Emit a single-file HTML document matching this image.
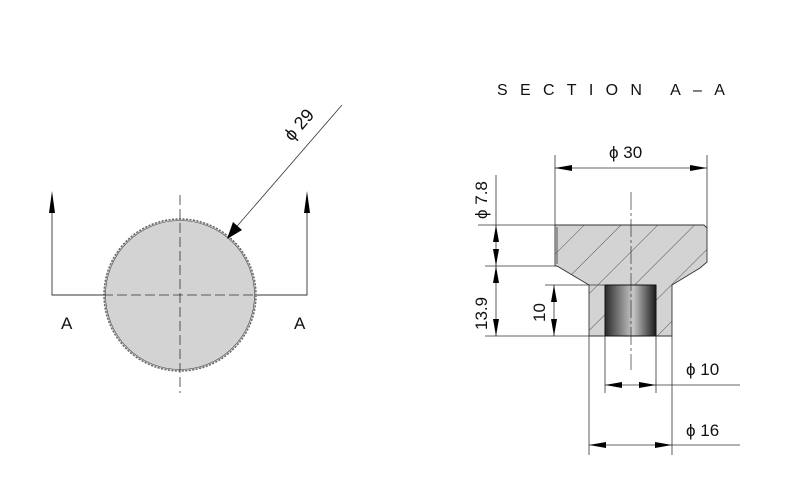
<!DOCTYPE html>
<html><head><meta charset="utf-8"><style>
html,body{margin:0;padding:0;background:#fff;}
svg{display:block;font-family:"Liberation Sans",sans-serif;}
</style></head><body>
<svg width="788" height="500" viewBox="0 0 788 500" xmlns="http://www.w3.org/2000/svg">
<defs>
<linearGradient id="g" x1="0" x2="1" y1="0" y2="0">
<stop offset="0" stop-color="#2a2a2a"/><stop offset="0.55" stop-color="#c8c8c8"/><stop offset="1" stop-color="#1a1a1a"/>
</linearGradient>
<pattern id="h" width="26" height="26" patternUnits="userSpaceOnUse" patternTransform="rotate(45)">
<line x1="0" y1="0" x2="0" y2="26" stroke="#333" stroke-width="0.8"/>
</pattern>
</defs>
<circle cx="180" cy="295" r="76" fill="#d3d3d3" stroke="#666" stroke-width="1.5" stroke-dasharray="2 1.5"/>
<circle cx="180" cy="295" r="74.5" fill="none" stroke="#444" stroke-width="0.6"/>
<line x1="180" y1="195" x2="180" y2="393" stroke="#333" stroke-width="0.8" stroke-dasharray="10 4"/>
<line x1="103" y1="295" x2="257" y2="295" stroke="#333" stroke-width="0.8" stroke-dasharray="10 4"/>
<polyline points="52,200 52,295 103,295" fill="none" stroke="#333" stroke-width="0.9"/>
<polyline points="307,200 307,295 257,295" fill="none" stroke="#333" stroke-width="0.9"/>
<polygon points="52,191 49,213 55,213" fill="#000"/>
<polygon points="307,191 304,213 310,213" fill="#000"/>
<text x="61" y="329" font-size="17" fill="#111">A</text>
<text x="294" y="329" font-size="17" fill="#111">A</text>
<line x1="342" y1="105" x2="232" y2="232" stroke="#333" stroke-width="0.8"/>
<polygon points="227,239 233,222 242,230" fill="#000"/>
<text x="0" y="0" font-size="18" fill="#111" transform="translate(292,142) rotate(-49)">ϕ 29</text>
<text x="497" y="95" font-size="16" fill="#111" letter-spacing="12.3">SECTION A–A</text>
<polygon points="555,225 704,225 707,228 707,262 700,268 672,285 672,336 589,336 589,285 557,266 555,266" fill="#d3d3d3"/>
<clipPath id="c"><polygon points="555,225 704,225 707,228 707,262 700,268 672,285 672,336 589,336 589,285 557,266 555,266"/></clipPath>
<rect x="550" y="220" width="160" height="120" fill="url(#h)" clip-path="url(#c)"/>
<polygon points="555,225 704,225 707,228 707,262 700,268 672,285 672,336 589,336 589,285 557,266 555,266" fill="none" stroke="#333" stroke-width="0.9"/>
<line x1="557" y1="227" x2="557" y2="264" stroke="#555" stroke-width="1"/>
<rect x="605" y="285" width="51" height="51" fill="url(#g)" stroke="#111" stroke-width="1"/>
<line x1="631" y1="192" x2="631" y2="370" stroke="#333" stroke-width="0.7" stroke-dasharray="18 3 3 3"/>
<g stroke="#333" stroke-width="0.8" fill="none">
<line x1="555" y1="155" x2="555" y2="225"/>
<line x1="707" y1="155" x2="707" y2="228"/>
<line x1="555" y1="168" x2="707" y2="168"/>
<line x1="496" y1="175" x2="496" y2="336"/>
<line x1="478" y1="225" x2="555" y2="225"/>
<line x1="485" y1="266" x2="557" y2="266"/>
<line x1="485" y1="336" x2="589" y2="336"/>
<line x1="545" y1="285" x2="605" y2="285"/>
<line x1="554" y1="285" x2="554" y2="336"/>
<line x1="605" y1="336" x2="605" y2="393"/>
<line x1="656" y1="336" x2="656" y2="393"/>
<line x1="605" y1="385" x2="740" y2="385"/>
<line x1="589" y1="336" x2="589" y2="455"/>
<line x1="672" y1="336" x2="672" y2="455"/>
<line x1="589" y1="445" x2="740" y2="445"/>
</g>
<g fill="#000">
<polygon points="555,168 572,165 572,171"/>
<polygon points="707,168 690,165 690,171"/>
<polygon points="496,225 493,242 499,242"/>
<polygon points="496,266 493,249 499,249"/>
<polygon points="496,266 493,283 499,283"/>
<polygon points="496,336 493,319 499,319"/>
<polygon points="554,285 551,302 557,302"/>
<polygon points="554,336 551,319 557,319"/>
<polygon points="605,385 622,382 622,388"/>
<polygon points="656,385 639,382 639,388"/>
<polygon points="589,445 606,442 606,448"/>
<polygon points="672,445 655,442 655,448"/>
</g>
<text x="609" y="158" font-size="17" fill="#111">ϕ 30</text>
<text x="0" y="0" font-size="17" fill="#111" transform="translate(487,219) rotate(-90)">ϕ 7.8</text>
<text x="0" y="0" font-size="17" fill="#111" transform="translate(487,330) rotate(-90)">13.9</text>
<text x="0" y="0" font-size="17" fill="#111" transform="translate(545,322) rotate(-90)">10</text>
<text x="686" y="375" font-size="17" fill="#111">ϕ 10</text>
<text x="686" y="436" font-size="17" fill="#111">ϕ 16</text>
</svg>
</body></html>
